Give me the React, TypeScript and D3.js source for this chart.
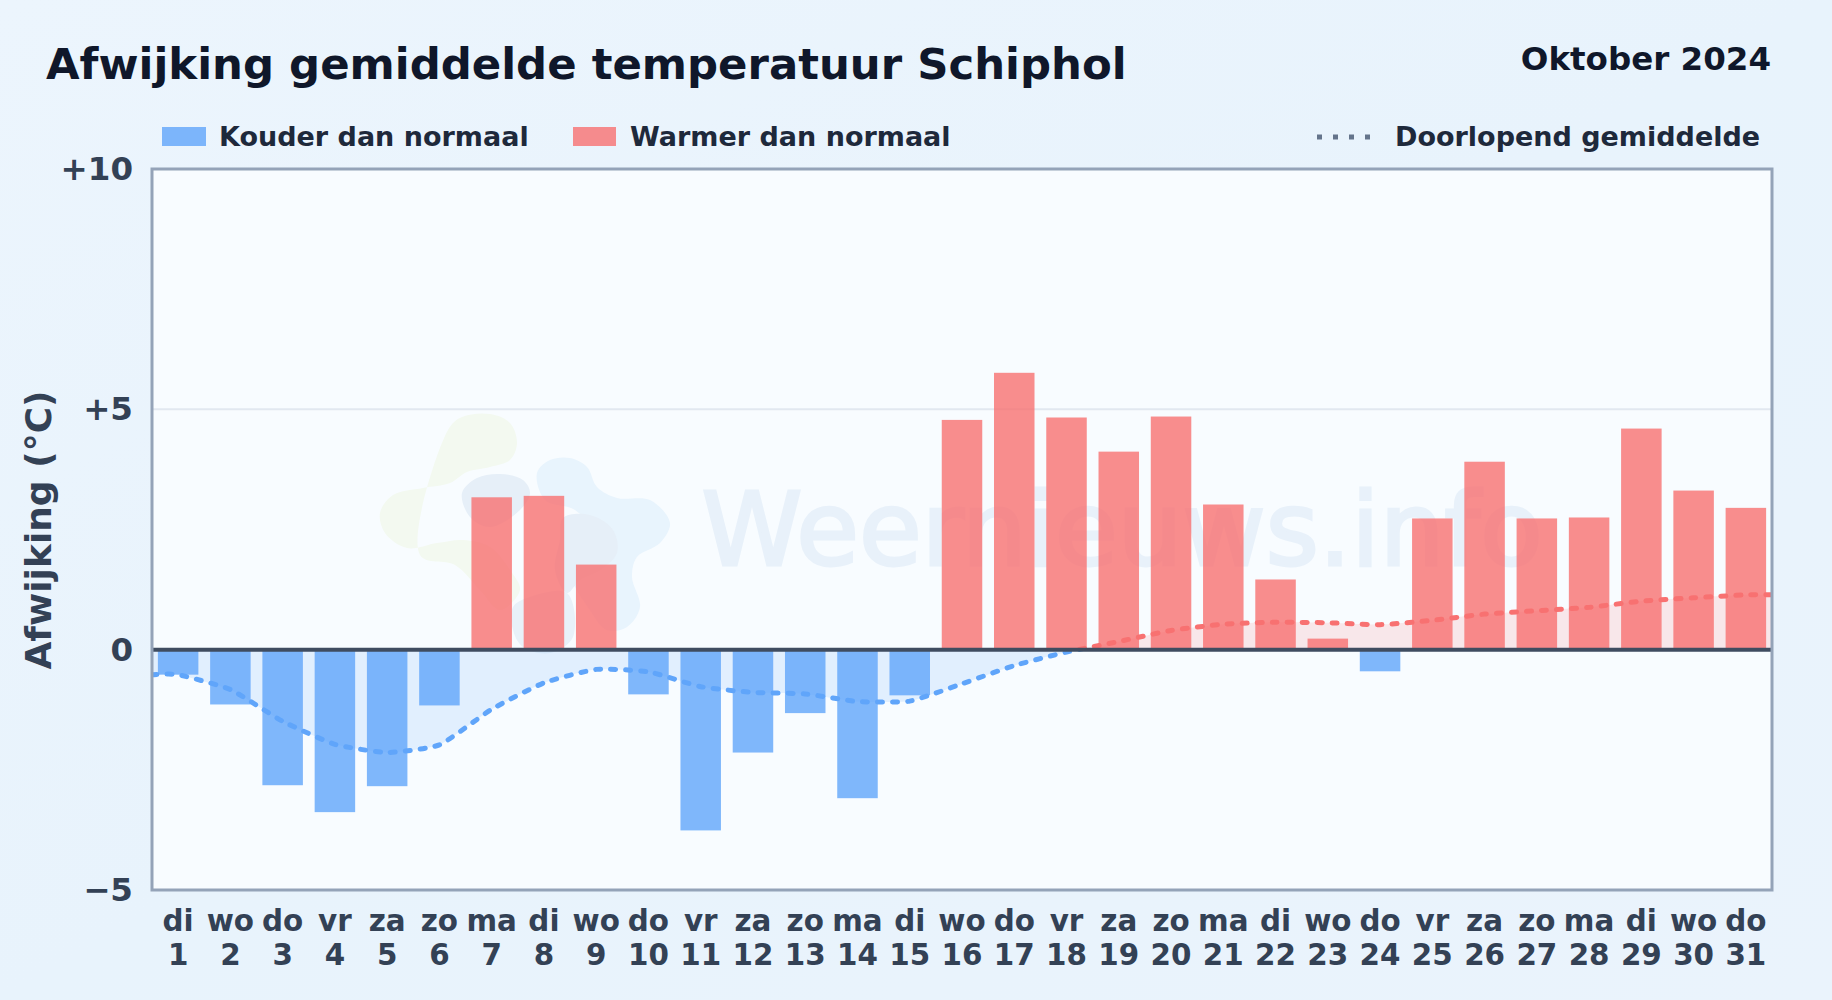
import {useEffect, useRef} from 'react';
import * as d3 from 'd3';

const days = d3.range(1, 32);
const weekdays = ['di', 'wo', 'do', 'vr', 'za', 'zo', 'ma', 'di', 'wo', 'do', 'vr', 'za', 'zo', 'ma', 'di', 'wo', 'do', 'vr', 'za', 'zo', 'ma', 'di', 'wo', 'do', 'vr', 'za', 'zo', 'ma', 'di', 'wo', 'do'];
const deviation = [-0.52, -1.14, -2.82, -3.38, -2.84, -1.16, 3.17, 3.2, 1.77, -0.93, -3.76, -2.14, -1.32, -3.09, -0.95, 4.78, 5.76, 4.83, 4.12, 4.85, 3.02, 1.46, 0.23, -0.45, 2.73, 3.91, 2.73, 2.75, 4.6, 3.31, 2.95];
const runningMean = [-0.52, -0.83, -1.49, -1.97, -2.14, -1.98, -1.24, -0.69, -0.41, -0.46, -0.77, -0.89, -0.92, -1.08, -1.07, -0.71, -0.33, -0.05, 0.17, 0.4, 0.53, 0.57, 0.56, 0.52, 0.61, 0.74, 0.81, 0.88, 1.01, 1.08, 1.14];
const yTicks = [-5, 0, 5, 10];

const FONT = '"DejaVu Sans", sans-serif';
const BLUE = '#60a5fa';
const RED = '#f87171';

// watermark logo outlines
const logoBlobs: {fill: string; pts: [number, number][]}[] = [
  {fill: '#f3f9f0', pts: [[448, 430], [462, 417], [490, 414], [510, 423], [517, 443], [510, 460], [490, 467], [467, 472], [450, 483], [423, 488], [393, 495], [380, 513], [385, 533], [407, 548], [437, 543], [463, 540], [490, 547], [510, 570], [520, 590], [500, 610], [480, 590], [455, 565], [420, 555]]},
  {fill: '#e8f4fd', pts: [[537, 473], [550, 460], [570, 458], [587, 467], [597, 487], [617, 498], [650, 500], [670, 523], [660, 543], [637, 557], [632, 577], [640, 607], [627, 627], [607, 630], [590, 610], [570, 570], [590, 530], [575, 510], [545, 500]]},
  {fill: '#e6eff8', pts: [[462, 493], [477, 478], [500, 474], [523, 480], [530, 493], [520, 510], [490, 527], [470, 517]]},
  {fill: '#e6eff8', pts: [[563, 518], [590, 515], [613, 530], [617, 553], [600, 570], [580, 580], [567, 593], [555, 570], [560, 540]]},
  {fill: '#e8f1f9', pts: [[513, 607], [530, 597], [567, 593], [573, 637], [550, 653], [523, 647], [513, 630]]},
];

const App = () => {
  const svgRef = useRef<SVGSVGElement | null>(null);

  useEffect(() => {
    if (!svgRef.current) return;
    const svg = d3.select(svgRef.current);
    svg.selectAll('*').remove();

    const width = 1832;
    const height = 1000;
    const margin = {top: 169, right: 60, bottom: 110, left: 152};

    const x = d3
      .scaleBand<number>()
      .domain(days)
      .range([margin.left, width - margin.right])
      .paddingInner(0.225)
      .paddingOuter(0.1125);

    const y = d3
      .scaleLinear()
      .domain([-5, 10])
      .range([height - margin.bottom, margin.top]);

    const defs = svg.append('defs');
    const grad = defs
      .append('linearGradient')
      .attr('id', 'bg')
      .attr('x1', '0%')
      .attr('y1', '0%')
      .attr('x2', '100%')
      .attr('y2', '100%');
    grad.append('stop').attr('offset', '0%').attr('stop-color', '#ecf5fd');
    grad.append('stop').attr('offset', '50%').attr('stop-color', '#e8f3fc');
    grad.append('stop').attr('offset', '100%').attr('stop-color', '#eaf3fc');

    defs
      .append('clipPath')
      .attr('id', 'below')
      .append('rect')
      .attr('x', margin.left)
      .attr('width', width - margin.left - margin.right)
      .attr('y', y(0))
      .attr('height', y(-5) - y(0));
    defs
      .append('clipPath')
      .attr('id', 'above')
      .append('rect')
      .attr('x', margin.left)
      .attr('width', width - margin.left - margin.right)
      .attr('y', y(10))
      .attr('height', y(0) - y(10));

    svg.append('rect').attr('width', width).attr('height', height).attr('fill', 'url(#bg)');

    // plot background
    svg
      .append('rect')
      .attr('x', margin.left)
      .attr('y', margin.top)
      .attr('width', width - margin.left - margin.right)
      .attr('height', height - margin.top - margin.bottom)
      .attr('fill', '#f8fcff');

    // watermark
    const blob = d3.line().curve(d3.curveCatmullRomClosed);
    logoBlobs.forEach((b) => {
      svg.append('path').attr('d', blob(b.pts)).attr('fill', b.fill);
    });
    svg
      .append('text')
      .attr('x', 1122)
      .attr('y', 565)
      .attr('text-anchor', 'middle')
      .attr('font-family', FONT)
      .attr('font-size', 102)
      .attr('fill', '#e8f1fa')
      .attr('stroke', '#e8f1fa')
      .attr('stroke-width', 3)
      .text('Weernieuws.info');

    // grid
    svg
      .append('line')
      .attr('x1', margin.left)
      .attr('x2', width - margin.right)
      .attr('y1', y(5))
      .attr('y2', y(5))
      .attr('stroke', '#e2e8f0')
      .attr('stroke-width', 2);

    // running mean runs flat out to the frame at both ends
    const meanPoints: [number, number][] = runningMean.map((v, i) => [
      x(days[i])! + x.bandwidth() / 2,
      v,
    ]);
    meanPoints.unshift([margin.left, runningMean[0]]);
    meanPoints.push([width - margin.right, runningMean[runningMean.length - 1]]);

    const curve = d3.curveCardinal.tension(0.5);
    const area = d3
      .area<[number, number]>()
      .x((d) => d[0])
      .y0(y(0))
      .y1((d) => y(d[1]))
      .curve(curve);
    const line = d3
      .line<[number, number]>()
      .x((d) => d[0])
      .y((d) => y(d[1]))
      .curve(curve);

    svg
      .append('path')
      .attr('d', area(meanPoints))
      .attr('clip-path', 'url(#below)')
      .attr('fill', BLUE)
      .attr('fill-opacity', 0.15);
    svg
      .append('path')
      .attr('d', area(meanPoints))
      .attr('clip-path', 'url(#above)')
      .attr('fill', RED)
      .attr('fill-opacity', 0.15);

    // bars
    svg
      .append('g')
      .selectAll('rect')
      .data(deviation)
      .join('rect')
      .attr('x', (_, i) => x(days[i])!)
      .attr('width', x.bandwidth())
      .attr('y', (d) => Math.min(y(d), y(0)))
      .attr('height', (d) => Math.abs(y(d) - y(0)))
      .attr('fill', (d) => (d < 0 ? BLUE : RED))
      .attr('fill-opacity', 0.8);

    // running mean line
    [
      {clip: 'below', color: BLUE},
      {clip: 'above', color: RED},
    ].forEach(({clip, color}) => {
      svg
        .append('path')
        .attr('d', line(meanPoints))
        .attr('clip-path', `url(#${clip})`)
        .attr('fill', 'none')
        .attr('stroke', color)
        .attr('stroke-width', 5)
        .attr('stroke-linecap', 'round')
        .attr('stroke-dasharray', '5 10');
    });

    // zero line and frame
    svg
      .append('line')
      .attr('x1', margin.left)
      .attr('x2', width - margin.right)
      .attr('y1', y(0))
      .attr('y2', y(0))
      .attr('stroke', '#3f4c60')
      .attr('stroke-width', 4);
    svg
      .append('rect')
      .attr('x', margin.left)
      .attr('y', margin.top)
      .attr('width', width - margin.left - margin.right)
      .attr('height', height - margin.top - margin.bottom)
      .attr('fill', 'none')
      .attr('stroke', '#94a3b8')
      .attr('stroke-width', 3);

    // y axis
    const yAxis = svg
      .append('g')
      .attr('transform', `translate(${margin.left},0)`)
      .call(
        d3
          .axisLeft(y)
          .tickValues(yTicks)
          .tickSize(0)
          .tickPadding(19)
          .tickFormat((d) => {
            const v = d as number;
            return v > 0 ? `+${v}` : v < 0 ? `\u2212${-v}` : '0';
          })
      );
    yAxis.select('.domain').remove();
    yAxis
      .selectAll('text')
      .attr('font-family', FONT)
      .attr('font-size', 32.5)
      .attr('font-weight', 700)
      .attr('fill', '#334155');

    svg
      .append('text')
      .attr('transform', 'translate(51,530) rotate(-90)')
      .attr('text-anchor', 'middle')
      .attr('font-family', FONT)
      .attr('font-size', 36)
      .attr('font-weight', 700)
      .attr('fill', '#334155')
      .text('Afwijking (°C)');

    // x labels, weekday above day number
    const xLabels = svg
      .append('g')
      .attr('font-family', FONT)
      .attr('font-size', 29.4)
      .attr('font-weight', 700)
      .attr('fill', '#334155')
      .attr('text-anchor', 'middle');
    days.forEach((d, i) => {
      const cx = x(d)! + x.bandwidth() / 2;
      xLabels.append('text').attr('x', cx).attr('y', 931).text(weekdays[i]);
      xLabels.append('text').attr('x', cx).attr('y', 965).text(d);
    });

    // title
    svg
      .append('text')
      .attr('x', 46)
      .attr('y', 79)
      .attr('font-family', FONT)
      .attr('font-size', 43.4)
      .attr('font-weight', 700)
      .attr('fill', '#0f172a')
      .text('Afwijking gemiddelde temperatuur Schiphol');
    svg
      .append('text')
      .attr('x', 1771)
      .attr('y', 70)
      .attr('text-anchor', 'end')
      .attr('font-family', FONT)
      .attr('font-size', 32.5)
      .attr('font-weight', 700)
      .attr('fill', '#0f172a')
      .text('Oktober 2024');

    // legend
    const legend = svg
      .append('g')
      .attr('font-family', FONT)
      .attr('font-size', 27)
      .attr('font-weight', 700)
      .attr('fill', '#1e293b');
    [
      {sx: 162, sw: 44, tx: 219, color: BLUE, label: 'Kouder dan normaal'},
      {sx: 573, sw: 43, tx: 630, color: RED, label: 'Warmer dan normaal'},
    ].forEach((l) => {
      legend
        .append('rect')
        .attr('x', l.sx)
        .attr('y', 127)
        .attr('width', l.sw)
        .attr('height', 19)
        .attr('fill', l.color)
        .attr('fill-opacity', 0.8);
      legend.append('text').attr('x', l.tx).attr('y', 146).text(l.label);
    });
    legend
      .append('line')
      .attr('x1', 1317)
      .attr('x2', 1372)
      .attr('y1', 137)
      .attr('y2', 137)
      .attr('stroke', '#64748b')
      .attr('stroke-width', 5)
      .attr('stroke-dasharray', '5 11');
    legend.append('text').attr('x', 1395).attr('y', 146).text('Doorlopend gemiddelde');
  }, []);

  return (
    <svg
      ref={svgRef}
      width={1832}
      height={1000}
      style={{position: 'absolute', top: 0, left: 0}}
    ></svg>
  );
};

export default App;
